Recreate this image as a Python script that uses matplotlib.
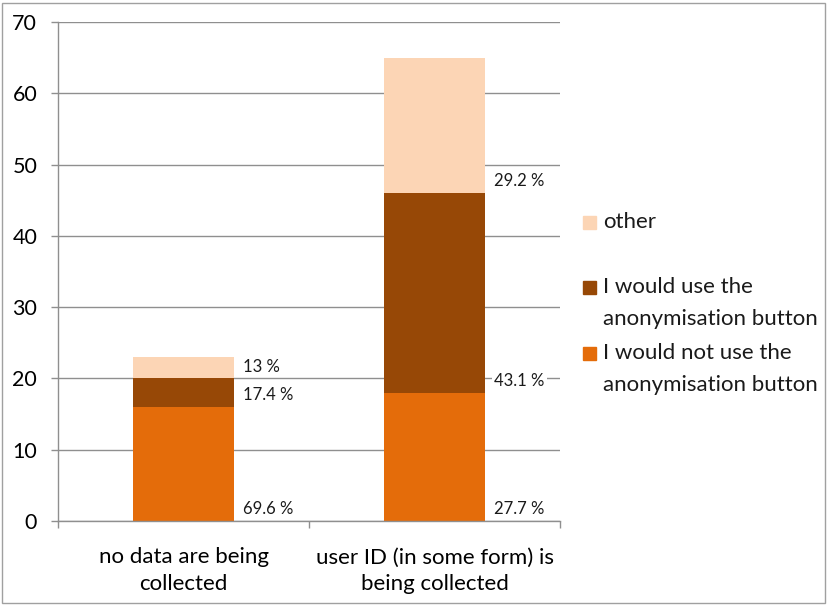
import matplotlib
matplotlib.use("Agg")
import matplotlib.pyplot as plt
from matplotlib.patches import Rectangle
import numpy as np

plt.rcParams['font.family'] = ['Lato', 'DejaVu Sans']

categories = ["no data are being\ncollected", "user ID (in some form) is\nbeing collected"]
series_names = ["I would not use the\nanonymisation button",
                "I would use the\nanonymisation button",
                "other"]
would_not_use = [16, 18]
would_use = [4, 28]
other = [3, 19]
series_values = [would_not_use, would_use, other]
colors = ["#E46C0A", "#974806", "#FCD5B5"]
y_ticks = [0, 10, 20, 30, 40, 50, 60, 70]

fig = plt.figure(figsize=(8.27, 6.06), dpi=100)
ax = fig.add_axes([58 / 827, 1 - 521 / 606, (560 - 58) / 827, (521 - 22) / 606])

x = np.arange(len(categories))
width = 0.40
totals = np.sum(series_values, axis=0)
bottom = np.zeros(len(categories))
grid_c = "#8F8F8F"

for vals, col in zip(series_values, colors):
    vals = np.asarray(vals, dtype=float)
    ax.bar(x, vals, width, bottom=bottom, color=col, zorder=2)
    for xi, b, v, t in zip(x, bottom, vals, totals):
        pct = round(v / t * 100, 1)
        ax.annotate(f"{pct:g} %", xy=(xi + width / 2, b), xytext=(7, 8.5),
                    textcoords="offset points", ha="left", va="center",
                    fontsize=12, color="#1a1a1a", zorder=3,
                    bbox=dict(boxstyle="square,pad=0.15", fc="white", ec="none"))
    bottom += vals

ax.set_xlim(-0.5, len(categories) - 0.5)
ax.set_ylim(0, 70)
ax.set_yticks(y_ticks)
ax.set_yticklabels([str(v) for v in y_ticks], fontsize=15.5)
ax.yaxis.grid(True, color=grid_c, linewidth=1.0, zorder=0)
ax.set_axisbelow(True)

# category ticks sit on the boundaries between groups
ax.set_xticks(np.arange(len(categories) + 1) - 0.5)
ax.set_xticklabels([])
ax.set_xticks(x, minor=True)
ax.set_xticklabels(categories, minor=True, fontsize=16, linespacing=1.4)
ax.tick_params(axis="x", which="minor", length=0, pad=19)
ax.tick_params(axis="x", which="major", length=5, width=1, color=grid_c, direction="out")
ax.tick_params(axis="y", length=5, width=1, color=grid_c, pad=10)

for s in ["top", "right"]:
    ax.spines[s].set_visible(False)
for s in ["left", "bottom"]:
    ax.spines[s].set_color(grid_c)
    ax.spines[s].set_linewidth(1.0)

# legend entries, top to bottom
legend_items = [("other", colors[2], 222),
                ("I would use the\nanonymisation button", colors[1], 303),
                ("I would not use the\nanonymisation button", colors[0], 369)]
for label, col, yc in legend_items:
    n = label.count("\n") + 1
    first_line_y = yc - (n - 1) * 16
    fig.patches.append(Rectangle((583 / 827, 1 - (first_line_y + 6.5) / 606), 13 / 827, 13 / 606,
                                 transform=fig.transFigure, color=col))
    fig.text(603 / 827, 1 - yc / 606, label, ha="left", va="center", fontsize=16,
             linespacing=1.75, color="#1a1a1a")

# thin frame around the chart
fig.patches.append(Rectangle((2 / 827, 3 / 606), 823 / 827, 600 / 606, transform=fig.transFigure,
                             fill=False, edgecolor="#A0A0A0", linewidth=1.0))

fig.savefig("out.png", dpi=100)
